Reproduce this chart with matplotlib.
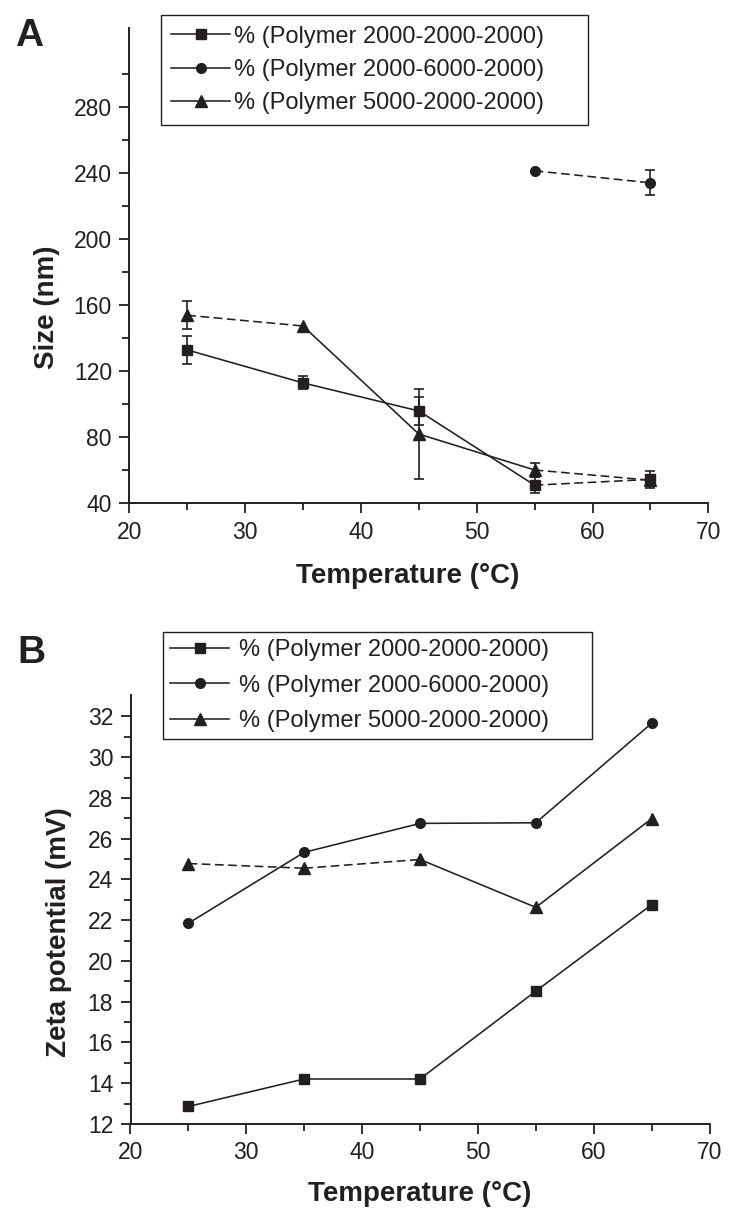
import matplotlib
matplotlib.use('Agg')
import matplotlib.pyplot as plt
from matplotlib.lines import Line2D
from matplotlib.ticker import FixedLocator

plt.rcParams['font.family'] = ['Liberation Sans', 'DejaVu Sans']

# ---------------- data ----------------
temps = [25, 35, 45, 55, 65]
series_labels = ['% (Polymer 2000-2000-2000)',
                 '% (Polymer 2000-6000-2000)',
                 '% (Polymer 5000-2000-2000)']

# Panel A: size (nm)
size_p222 = [133.0, 113.0, 96.0, 51.0, 54.5]
size_p222_err = [8.4, 4.0, 8.5, 5.0, 5.0]
size_p262_temps = [55, 65]
size_p262 = [241.6, 234.3]
size_p262_err = [0.0, 7.6]
size_p522 = [154.0, 147.5, 82.0, 60.2, 54.0]
size_p522_err = [8.4, 0.0, 27.0, 4.5, 0.0]

# Panel B: zeta potential (mV)
zeta_p222 = [12.86, 14.21, 14.21, 18.52, 22.76]
zeta_p262 = [21.85, 25.33, 26.75, 26.78, 31.66]
zeta_p522 = [24.78, 24.55, 24.98, 22.63, 26.98]

# axis ticks
x_major = [20, 30, 40, 50, 60, 70]
x_minor = [25, 35, 45, 55, 65]
a_major = [40, 80, 120, 160, 200, 240, 280]
a_minor = [60, 100, 140, 180, 220, 260, 300]
b_major = [12, 14, 16, 18, 20, 22, 24, 26, 28, 30, 32]
b_minor = [13, 15, 17, 19, 21, 23, 25, 27, 29, 31]

# ---------------- style ----------------
INK = '#231f20'
DASH = (0, (5.5, 2.8))
LW = 1.15

fig = plt.figure(figsize=(7.35, 12.25), dpi=100)
W, H = 735.0, 1225.0


def px_axes(l, t, r, b):
    return fig.add_axes([l / W, 1 - b / H, (r - l) / W, (b - t) / H])


axA = px_axes(129.3, 28.3, 708.3, 503.3)
axB = px_axes(130.5, 695.0, 709.5, 1124.0)


def draw(ax, x, y, err, marker, ms, segs):
    for i, ls in enumerate(segs):
        ax.plot(x[i:i + 2], y[i:i + 2], color=INK, lw=LW,
                linestyle='-' if ls == 's' else DASH, zorder=2)
    if err is not None:
        ex = [xi for xi, e in zip(x, err) if e > 0]
        ey = [yi for yi, e in zip(y, err) if e > 0]
        ee = [e for e in err if e > 0]
        if ex:
            ax.errorbar(ex, ey, yerr=ee, fmt='none', ecolor=INK,
                        elinewidth=1.2, capsize=3.5, capthick=1.2, zorder=3)
    ax.plot(x, y, linestyle='none', marker=marker, ms=ms, color=INK,
            mec=INK, zorder=4)


# Panel A
draw(axA, temps, size_p222, size_p222_err, 's', 7, ['s', 's', 's', 'd'])
draw(axA, size_p262_temps, size_p262, size_p262_err, 'o', 7, ['d'])
draw(axA, temps, size_p522, size_p522_err, '^', 8, ['d', 's', 's', 'd'])

# Panel B
draw(axB, temps, zeta_p222, None, 's', 7, ['s', 's', 's', 's'])
draw(axB, temps, zeta_p262, None, 'o', 7, ['s', 's', 's', 's'])
draw(axB, temps, zeta_p522, None, '^', 8, ['d', 'd', 's', 's'])

for ax, ylim, ymaj, ymin in [(axA, (40, 328), a_major, a_minor),
                             (axB, (12, 33.05), b_major, b_minor)]:
    ax.set_xlim(20, 70)
    ax.set_ylim(*ylim)
    ax.xaxis.set_major_locator(FixedLocator(x_major))
    ax.xaxis.set_minor_locator(FixedLocator(x_minor))
    ax.yaxis.set_major_locator(FixedLocator(ymaj))
    ax.yaxis.set_minor_locator(FixedLocator(ymin))
    for s in ['top', 'right']:
        ax.spines[s].set_visible(False)
    for s in ['left', 'bottom']:
        ax.spines[s].set_linewidth(1.4)
        ax.spines[s].set_color(INK)
    ax.tick_params(which='major', direction='out', length=7.5, width=1.3,
                   color=INK, labelsize=16.5, labelcolor=INK, pad=5)
    ax.tick_params(which='minor', direction='out', length=5, width=1.3,
                   color=INK)
    ax.patch.set_visible(False)

LBL = dict(fontsize=20, fontweight='bold', color=INK, va='center')
axA.set_ylabel('Size (nm)', **LBL)
axA.yaxis.set_label_coords((47 - 129.3) / 579.0, (503.3 - 307) / 475.0)
axA.set_xlabel('Temperature (°C)', **LBL)
axA.xaxis.set_label_coords((408 - 129.3) / 579.0, (503.3 - 576) / 475.0)

axB.set_ylabel('Zeta potential (mV)', **LBL)
axB.yaxis.set_label_coords((59.5 - 130.5) / 579.0, (1124 - 932) / 429.0)
axB.set_xlabel('Temperature (°C)', **LBL)
axB.xaxis.set_label_coords((420 - 130.5) / 579.0, (1124 - 1194) / 429.0)

# panel letters
fig.text(15 / W, 1 - 46.5 / H, 'A', fontsize=28, fontweight='bold', color=INK,
         ha='left', va='baseline')
fig.text(17 / W, 1 - 663 / H, 'B', fontsize=28, fontweight='bold', color=INK,
         ha='left', va='baseline')

# legends
handles = [Line2D([], [], color=INK, lw=LW, marker=m, ms=ms, mec=INK)
           for m, ms in [('s', 7), ('o', 7), ('^', 8)]]


def add_legend(ax, l, t, r, spacing, textpad, bpad):
    leg = ax.legend(handles, series_labels, loc='upper left',
                    bbox_to_anchor=(l / W, 1 - t / H, (r - l) / W, 0),
                    bbox_transform=fig.transFigure, mode='expand',
                    borderaxespad=0, fontsize=17, frameon=True,
                    fancybox=False, edgecolor=INK, framealpha=1,
                    handlelength=2.5, handletextpad=textpad,
                    labelspacing=spacing, borderpad=bpad, labelcolor=INK)
    leg.get_frame().set_linewidth(1.0)
    return leg


add_legend(axA, 160.7, 15.0, 588.3, 0.48, 0.15, 0.45)
add_legend(axB, 163.3, 632.3, 591.7, 0.56, 0.4, 0.3)

fig.savefig('out.png', dpi=100)
